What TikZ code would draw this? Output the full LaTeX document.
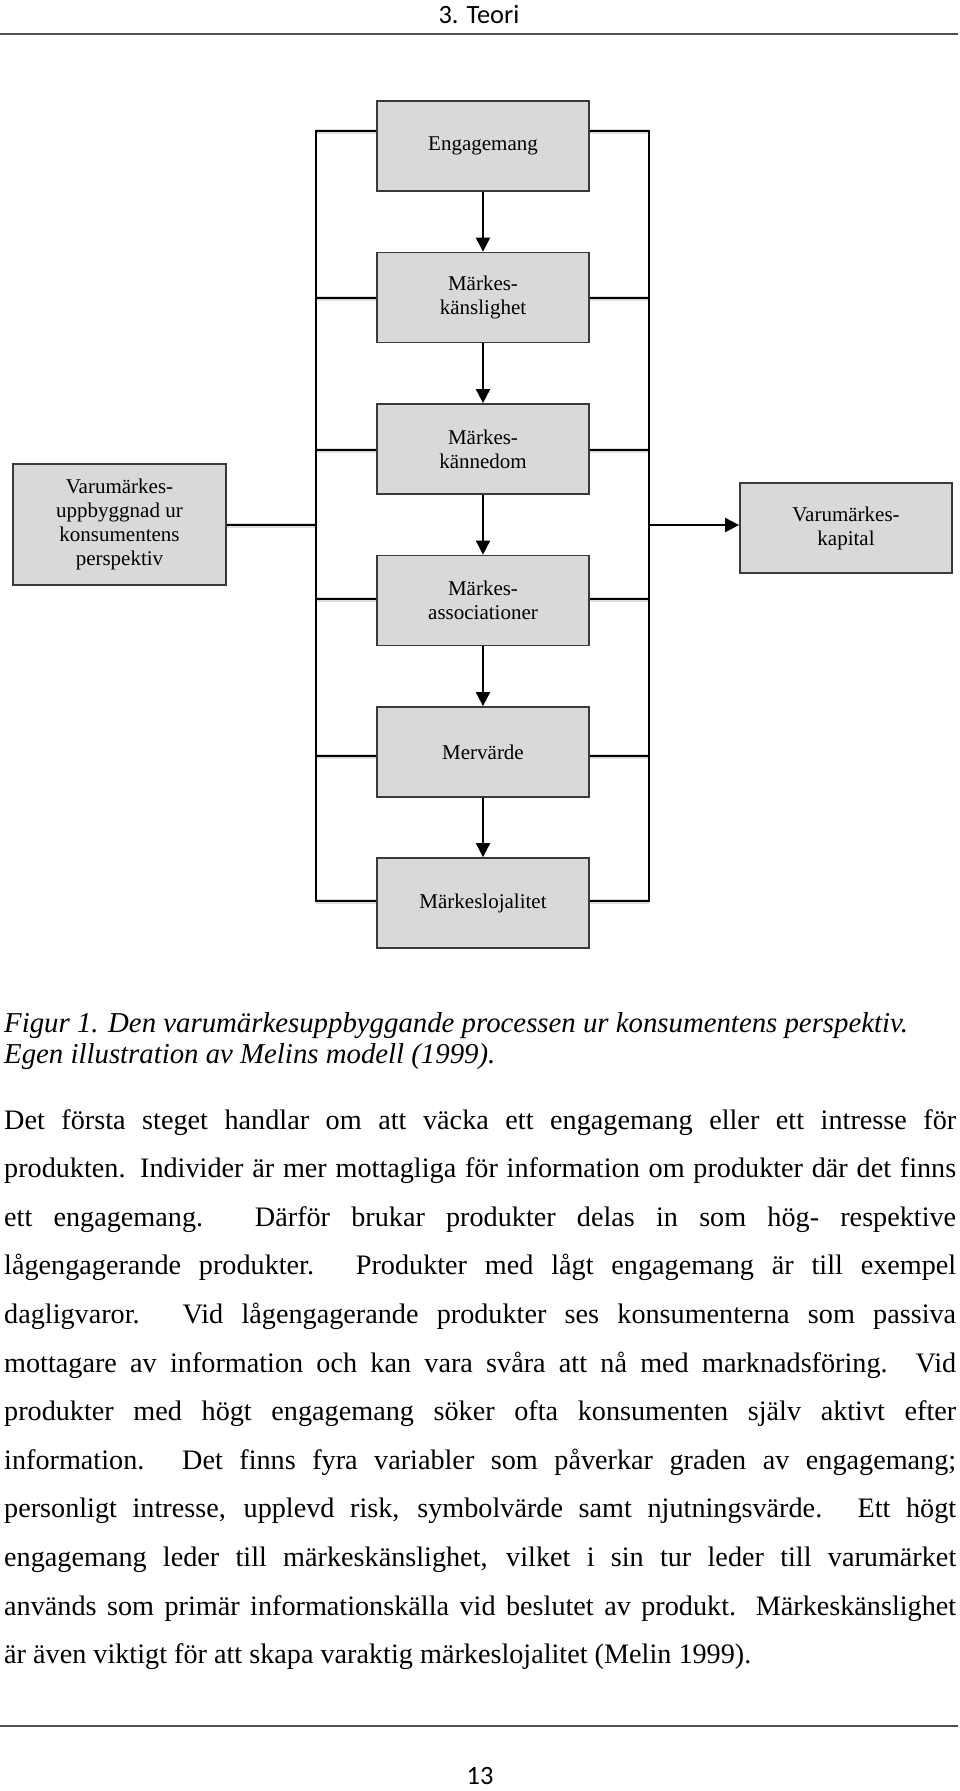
\documentclass[tikz,border=0pt]{standalone}
\usepackage{fontspec}
\setmainfont{Liberation Serif}
\newfontfamily\calib{Carlito}
\usetikzlibrary{arrows.meta}
\definecolor{boxfill}{HTML}{D9D9D9}
\definecolor{boxborder}{HTML}{3A3A3A}
\definecolor{rulegray}{HTML}{505050}
\tikzset{
  box/.style={draw=boxborder, line width=1.8pt, fill=boxfill, minimum width=212pt,
    minimum height=90pt, inner sep=0pt, align=center, font=\fontsize{21}{24}\selectfont},
  conn/.style={line width=2pt, draw=black},
  arr/.style={conn, -{Triangle[length=14pt,width=14pt]}},
  shad/.style={line width=5pt, draw=black!30, opacity=0.45},
  bodyline/.style={anchor=base west, inner sep=0pt, font=\fontsize{28.2}{30}\selectfont},
  capline/.style={anchor=base west, inner sep=0pt, font=\itshape\fontsize{28.8}{30}\selectfont},
  pagerule/.style={line width=2pt, draw=rulegray},
  pagefont/.style={inner sep=0pt, anchor=base, font=\calib\fontsize{26.4}{30}\selectfont},
}
\newcommand\jline[2]{\node[bodyline] (b#1) at (4,{1129+48.6*(#1)}) {\makebox[952pt][s]{#2}};}
\begin{document}
\begin{tikzpicture}[x=1pt,y=-1pt]
\useasboundingbox (0,0) rectangle (960,1791);
% header / footer
\node[pagefont] (head) at (479,23) {3. Teori};
\coordinate (hl) at (0,34); \coordinate (hr) at (958,34);
\draw[pagerule] (hl) -- (hr);
\coordinate (fl) at (0,1726); \coordinate (fr) at (958,1726);
\draw[pagerule] (fl) -- (fr);
\node[pagefont] (pnum) at (480,1784) {13};

% boxes
\node[box] (eng)   at (483,146)   {Engagemang};
\node[box] (kans)  at (483,297.5) {Märkes-\\känslighet};
\node[box] (kann)  at (483,449)   {Märkes-\\kännedom};
\node[box] (assoc) at (483,600.5) {Märkes-\\associationer};
\node[box] (merv)  at (483,752)   {Mervärde};
\node[box] (loj)   at (483,903)   {Märkeslojalitet};
\node[box, minimum width=213pt, minimum height=121pt] (left) at (119.5,524.5)
  {Varumärkes-\\uppbyggnad ur\\konsumentens\\perspektiv};
\node[box] (right) at (846,528) {Varumärkes-\\kapital};

% bracket coordinates
\coordinate (L1) at (316,131);  \coordinate (R1) at (649,131);
\coordinate (L2) at (316,298);  \coordinate (R2) at (649,298);
\coordinate (L3) at (316,450);  \coordinate (R3) at (649,450);
\coordinate (L4) at (316,599);  \coordinate (R4) at (649,599);
\coordinate (L5) at (316,756);  \coordinate (R5) at (649,756);
\coordinate (L6) at (316,901);  \coordinate (R6) at (649,901);
\coordinate (LM) at (316,525);  \coordinate (RM) at (649,525);

% shadows under rungs
\begin{scope}[yshift=-5pt]
\foreach \b/\l/\r in {eng/L1/R1,kans/L2/R2,kann/L3/R3,assoc/L4/R4,merv/L5/R5,loj/L6/R6}{
  \draw[shad] (\l) -- (\b.west |- \l);
  \draw[shad] (\b.east |- \r) -- (\r);
}
\draw[shad] (left.east |- LM) -- (LM);
\end{scope}

% brackets
\draw[conn] (eng.west |- L1) -- (L1) -- (L6) -- (loj.west |- L6);
\draw[conn] (eng.east |- R1) -- (R1) -- (R6) -- (loj.east |- R6);
\foreach \b/\l/\r in {kans/L2/R2,kann/L3/R3,assoc/L4/R4,merv/L5/R5}{
  \draw[conn] (\l) -- (\b.west |- \l);
  \draw[conn] (\b.east |- \r) -- (\r);
}
\draw[conn] (left.east |- LM) -- (LM);
\draw[arr] (RM) -- (right.west |- RM);

% vertical arrows
\draw[arr] (eng) -- (kans);
\draw[arr] (kans) -- (kann);
\draw[arr] (kann) -- (assoc);
\draw[arr] (assoc) -- (merv);
\draw[arr] (merv) -- (loj);

% caption
\node[capline] (cap1) at (4,1032) {Figur 1. Den varumärkesuppbyggande processen ur konsumentens perspektiv.};
\node[capline] (cap2) at (4,1063) {Egen illustration av Melins modell (1999).};

% body text
\jline{0}{Det första steget handlar om att väcka ett engagemang eller ett intresse för}
\jline{1}{produkten. Individer är mer mottagliga för information om produkter där det finns}
\jline{2}{ett engagemang. Därför brukar produkter delas in som hög- respektive}
\jline{3}{lågengagerande produkter. Produkter med lågt engagemang är till exempel}
\jline{4}{dagligvaror. Vid lågengagerande produkter ses konsumenterna som passiva}
\jline{5}{mottagare av information och kan vara svåra att nå med marknadsföring. Vid}
\jline{6}{produkter med högt engagemang söker ofta konsumenten själv aktivt efter}
\jline{7}{information. Det finns fyra variabler som påverkar graden av engagemang;}
\jline{8}{personligt intresse, upplevd risk, symbolvärde samt njutningsvärde. Ett högt}
\jline{9}{engagemang leder till märkeskänslighet, vilket i sin tur leder till varumärket}
\jline{10}{används som primär informationskälla vid beslutet av produkt. Märkeskänslighet}
\node[bodyline] (b11) at (4,{1129+48.6*11}) {är även viktigt för att skapa varaktig märkeslojalitet (Melin 1999).};
\end{tikzpicture}
\end{document}
